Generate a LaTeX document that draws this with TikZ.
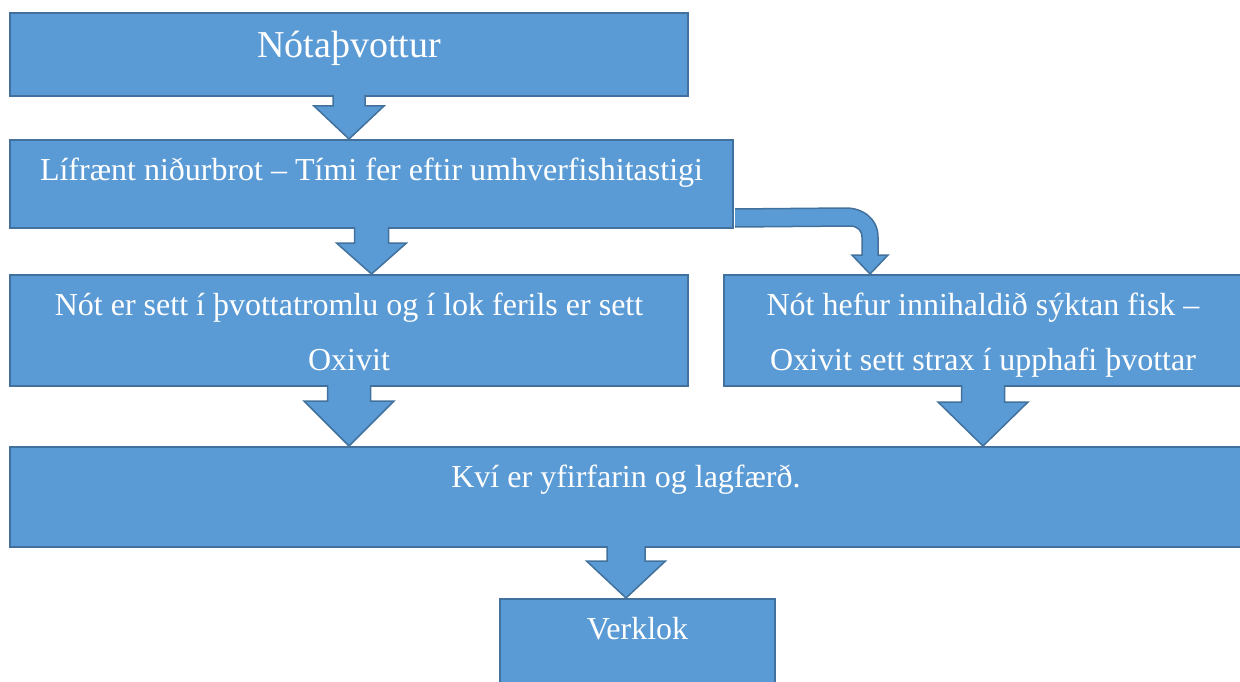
\documentclass[tikz,border=0pt]{standalone}
\usepackage{fontspec}
\setmainfont{Liberation Serif}
\usepackage{xcolor}
\usepackage{tikz}
\usetikzlibrary{calc}
\definecolor{kassifill}{HTML}{5B9BD5}
\definecolor{kassilina}{HTML}{41719C}
\tikzset{
  kassi/.style={draw=kassilina, fill=kassifill, line width=2pt, inner sep=0pt},
  texti/.style={text=white, font=\fontsize{32}{55}\selectfont, align=center, anchor=base},
  blokkor/.style={draw=kassilina, fill=kassifill, line width=1.5pt, line join=miter},
}
% #1 fra, #2 oddur, #3 halfbreidd skafts, #4 halfbreidd odds, #5 lengd odds
\newcommand{\blokkor}[5]{%
  \draw[blokkor] ($(#1)+(-#3,-2)$) -- ($(#2)+(-#3,-#5)$) -- ($(#2)+(-#4,-#5)$) -- (#2)
    -- ($(#2)+(#4,-#5)$) -- ($(#2)+(#3,-#5)$) -- ($(#1)+(#3,-2)$);
}

\begin{document}
\begin{tikzpicture}[x=1pt,y=-1pt]
        \useasboundingbox (0,0) rectangle (1240,682);
        %KASSAR
        \node[kassi, minimum width=678pt, minimum height=83pt] (b1) at (349,54.5) {};
        \node[kassi, minimum width=723pt, minimum height=88pt] (b2) at (371.5,184) {};
        \node[kassi, minimum width=678pt, minimum height=111pt] (b3) at (349,330.5) {};
        \node[kassi, minimum width=518pt, minimum height=111pt] (b4) at (983,330.5) {};
        \node[kassi, minimum width=1232pt, minimum height=100pt] (b5) at (626,497) {};
        \node[kassi, minimum width=275pt, minimum height=91pt] (b6) at (637.5,644.5) {};
        %TEXTAR (grunnlina sidustu linu)
        \node[texti, font=\fontsize{38}{45}\selectfont] (t1) at ($(b1.north)+(0,46)$) {Nótaþvottur};
        \node[texti] (t2) at ($(b2.north)+(0,41)$) {Lífrænt niðurbrot – Tími fer eftir umhverfishitastigi};
        \node[texti] (t3) at ($(b3.north)+(0,96)$) {Nót er sett í þvottatromlu og í lok ferils er sett\\Oxivit};
        \node[texti] (t4) at ($(b4.north)+(0,96)$) {Nót hefur innihaldið sýktan fisk –\\Oxivit sett strax í upphafi þvottar};
        \node[texti] (t5) at ($(b5.north)+(0,41)$) {Kví er yfirfarin og lagfærð.};
        \node[texti] (t6) at ($(b6.north)+(0,41)$) {Verklok};
        %ORVAR
        \blokkor{b1.south}{b1.south |- b2.north}{16}{35}{33}
        \blokkor{b2.south}{b2.south |- b3.north}{17}{35}{31}
        \blokkor{b3.south}{b3.south |- b5.north}{21.5}{45}{45}
        \blokkor{b4.south}{b4.south |- b5.north}{21.5}{45}{44}
        \blokkor{b5.south}{b5.south |- b6.north}{19}{39.5}{37}
        %BOGIN OR
        \coordinate (beygja) at (870,217);
        \draw[blokkor] ($(b2.south east)+(1,-20)$) -- ($(beygja)+(-24,-9)$)
          .. controls ($(beygja)+(-7,-9)$) and ($(beygja)+(8,2)$) .. ($(beygja)+(8,20)$)
          -- ($(beygja |- b4.north)+(8,-19)$) -- ($(beygja |- b4.north)+(18,-19)$)
          -- (beygja |- b4.north)
          -- ($(beygja |- b4.north)+(-18,-19)$) -- ($(beygja |- b4.north)+(-8,-19)$)
          -- ($(beygja)+(-8,20)$)
          .. controls ($(beygja)+(-8,14)$) and ($(beygja)+(-12,9)$) .. ($(beygja)+(-20,9)$)
          -- ($(b2.south east)+(1,-2)$);
\end{tikzpicture}
\end{document}
